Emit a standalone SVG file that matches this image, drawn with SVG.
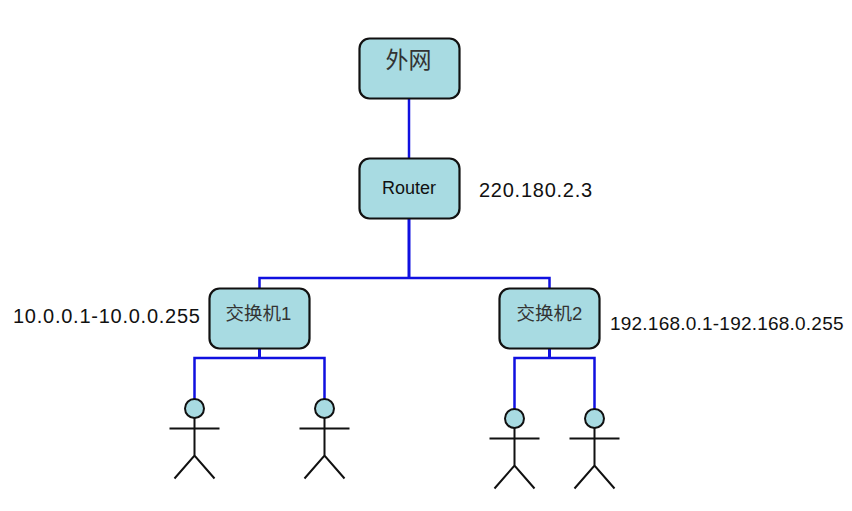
<svg xmlns="http://www.w3.org/2000/svg" width="852" height="511" viewBox="0 0 852 511">
<style>
.box{fill:#a8dbe2;stroke:#111;stroke-width:2.200}
.head{fill:#a8dbe2;stroke:#111;stroke-width:2}
.limb{fill:none;stroke:#111;stroke-width:2}
.wire{fill:none;stroke:#1010e0;stroke-width:2.500}
.trunk{stroke-width:3}
text{font-family:"Liberation Sans","Noto Sans CJK SC",sans-serif;fill:#111}
.lbl{font-size:18px;text-anchor:middle}
.cjk{font-size:18.500px;text-anchor:middle;fill:#333}
.big{font-size:23px}
.addr{font-size:20px;letter-spacing:.75px}
.addr-tight{font-size:19px;letter-spacing:.22px}
</style>
<defs>
<g id="person">
<circle class="head" cx="0" cy="0" r="9.500"/>
<path class="limb" d="M0 9.500V47M-25 20H25M-20 70L0 47L20 70"/>
</g>
</defs>
<rect width="852" height="511" fill="#fff"/>
<g id="connectors">
<path class="wire" d="M409 98V159"/>
<path class="wire trunk" d="M409 218V278"/>
<path class="wire" d="M259.500 289V278H549.500V289"/>
<path class="wire trunk" d="M259.500 348V358M549.500 348V358"/>
<path class="wire" d="M194.500 399V358H324.500V399"/>
<path class="wire" d="M514.500 409V358H594.500V409"/>
</g>
<g id="internet"><rect class="box" x="359.500" y="38.500" width="100" height="60" rx="10"/><text x="408.500" y="68" class="cjk big">外网</text></g>
<g id="router"><rect class="box" x="359.500" y="158.500" width="100" height="60" rx="10"/><text x="409" y="194" class="lbl">Router</text></g>
<g id="switch1"><rect class="box" x="209.500" y="288.500" width="100" height="60" rx="10"/><text x="258.500" y="320" class="cjk">交换机1</text></g>
<g id="switch2"><rect class="box" x="499.500" y="288.500" width="100" height="60" rx="10"/><text x="549.500" y="320" class="cjk">交换机2</text></g>
<use id="host1" href="#person" x="194.500" y="408.500"/>
<use id="host2" href="#person" x="324.500" y="408.500"/>
<use id="host3" href="#person" x="514.500" y="418.500"/>
<use id="host4" href="#person" x="594.500" y="418.500"/>
<text id="addr-router" class="addr" x="479" y="197">220.180.2.3</text>
<text id="addr-lan1" class="addr" x="13" y="323">10.0.0.1-10.0.0.255</text>
<text id="addr-lan2" class="addr-tight" x="610" y="330">192.168.0.1-192.168.0.255</text>
</svg>
